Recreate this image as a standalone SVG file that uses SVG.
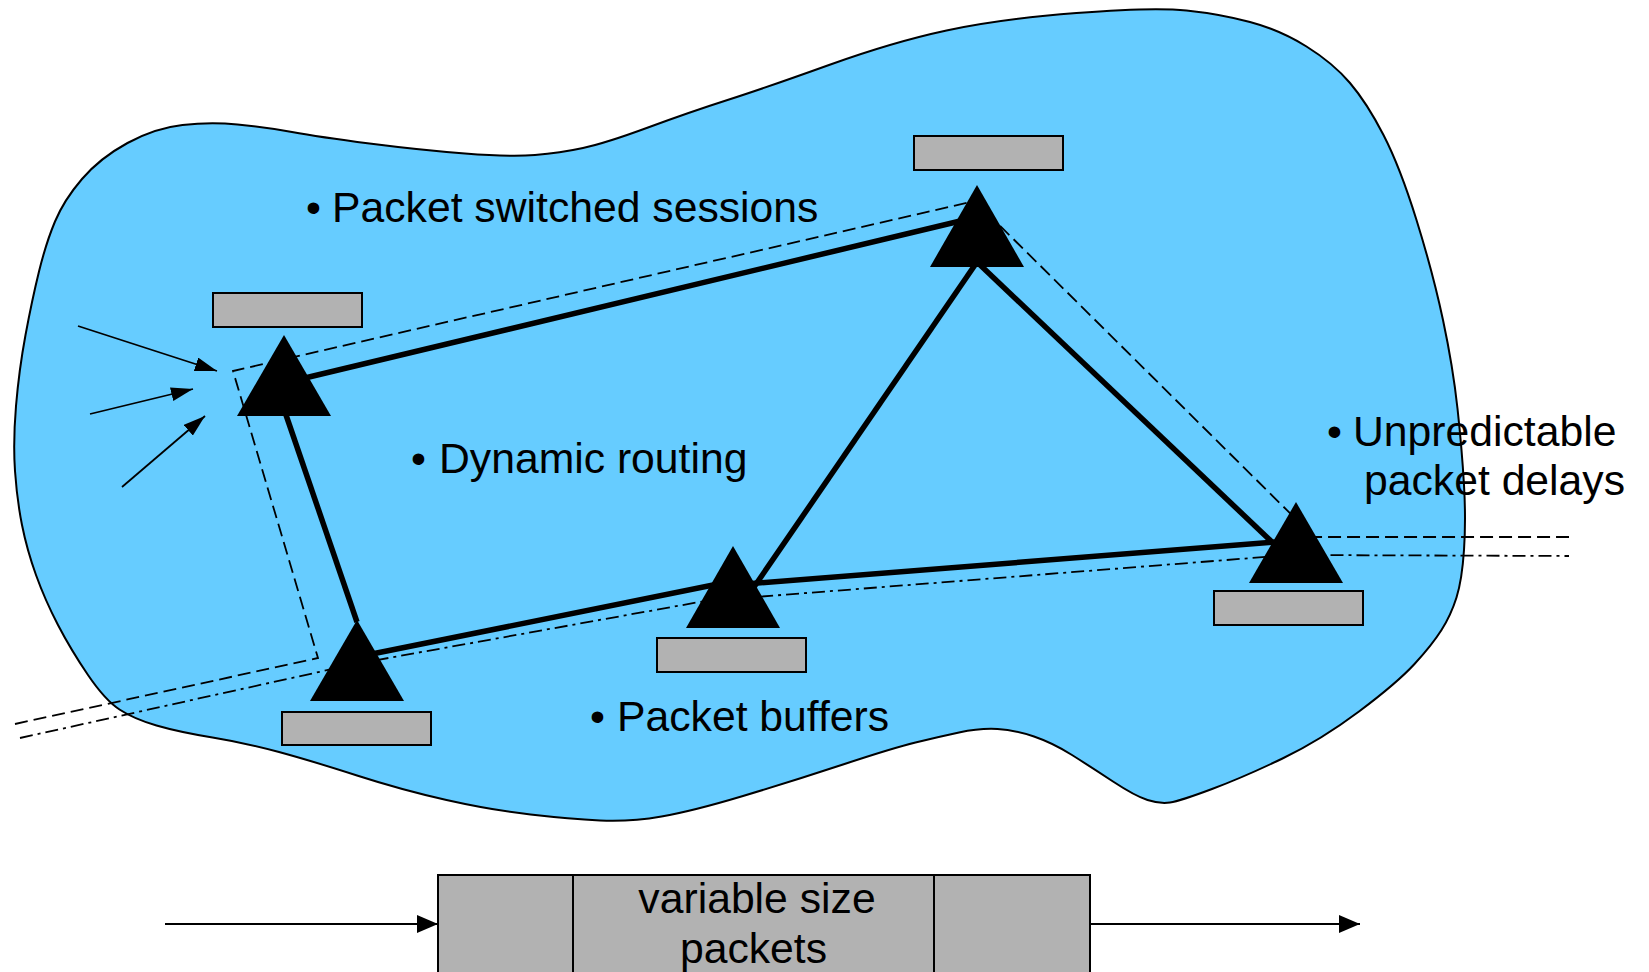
<svg xmlns="http://www.w3.org/2000/svg" width="1649" height="972" viewBox="0 0 1649 972">
  <style>
    .cloud { fill: #66ccff; stroke: #000; stroke-width: 2; }
    .router { fill: #000; }
    .buffer { fill: #b2b2b2; stroke: #000; stroke-width: 2; }
    .link { stroke: #000; stroke-width: 5.5; fill: none; }
    .session { stroke: #000; stroke-width: 1.8; fill: none; stroke-dasharray: 13 6; }
    .flow { stroke: #000; stroke-width: 1.8; fill: none; stroke-dasharray: 13 5 3 5; }
    .feed { stroke: #000; stroke-width: 1.8; fill: none; marker-end: url(#head); }
    .pipe { stroke: #000; stroke-width: 2; fill: none; marker-end: url(#bighead); }
    .label { font-family: "Liberation Sans", Arial, sans-serif; font-size: 42.7px; fill: #000; }
    .packet { fill: #b2b2b2; stroke: #000; stroke-width: 2; }
  </style>
  <defs>
    <marker id="head" markerUnits="userSpaceOnUse" markerWidth="22" markerHeight="14" viewBox="0 0 22 14" refX="22" refY="7" orient="auto">
      <path d="M0,0 L22,7 L0,14 Z" fill="#000"/>
    </marker>
    <marker id="bighead" markerUnits="userSpaceOnUse" markerWidth="21" markerHeight="18" viewBox="0 0 21 18" refX="21" refY="9" orient="auto">
      <path d="M0,0 L21,9 L0,18 Z" fill="#000"/>
    </marker>
  </defs>

  <!-- network cloud -->
  <path id="cloud" class="cloud" d="M15,471 Q13,442 16,406 Q19,370 25.5,335 Q32,300 39,271.5 Q46,243 55,221.5 Q64,200 82,179 Q100,158 127.5,143 Q155,128 182.5,125 Q210,122 237.5,124.5 Q265,127 292,132 Q319,137 369.5,143.5 Q420,150 465,153.5 Q510,157 535,155 Q560,153 583,148 Q606,143 648,127.5 Q690,112 727.5,100 Q765,88 829,65 Q893,42 946.5,30.5 Q1000,19 1076.5,13 Q1153,7 1186.5,10.5 Q1220,14 1250,22 Q1280,30 1306.5,46.5 Q1333,63 1350,83 Q1367,103 1383.5,135 Q1400,167 1416.5,220 Q1433,273 1443,320 Q1453,367 1457.5,408.5 Q1462,450 1464,485 Q1466,520 1464,550 Q1462,580 1456.5,597.5 Q1451,615 1441.5,630 Q1432,645 1414.5,664 Q1397,683 1359,711.5 Q1321,740 1282.5,758.5 Q1244,777 1212,789 Q1180,801 1170,802.5 Q1160,804 1147.5,800 Q1135,796 1113,781.5 Q1091,767 1072,755 Q1053,743 1034,736.5 Q1015,730 997.5,729 Q980,728 959,732.5 Q938,737 915.5,742.5 Q893,748 843,764.5 Q793,781 743,796 Q693,811 661.5,816.5 Q630,822 600,820.5 Q570,819 530.5,814.5 Q491,810 446.5,800 Q402,790 357,775.5 Q312,761 279,752 Q246,743 212.5,737.5 Q179,732 156.5,725.5 Q134,719 119.5,709.5 Q105,700 88,675 Q71,650 58,625 Q45,600 36,575 Q27,550 22,525 Q17,500 15,471 Z"/>

  <!-- links, session paths and inputs -->
  <g id="connectors">
    <line class="link" x1="284" y1="383" x2="977" y2="217"/>
    <line class="link" x1="285" y1="412" x2="357" y2="622"/>
    <line class="link" x1="357" y1="657" x2="733" y2="581"/>
    <line class="link" x1="977" y1="262" x2="752" y2="590"/>
    <line class="link" x1="977" y1="262" x2="1273" y2="543"/>
    <line class="link" x1="733" y1="585" x2="1275" y2="542"/>

    <polyline class="session" points="15,724 318,658 233,371 975,201 1314,537 1569,537"/>
    <polyline class="flow" points="20,738 355,664 705,601 1290,555 1569,556"/>

    <line class="feed" x1="78" y1="326" x2="217" y2="371"/>
    <line class="feed" x1="90" y1="414" x2="193" y2="389"/>
    <line class="feed" x1="122" y1="487" x2="205" y2="416"/>
  </g>

  <!-- switching nodes -->
  <g id="node-a">
    <rect class="buffer" x="213" y="293" width="149" height="34"/>
    <polygon class="router" points="284,335 331,416 237,416"/>
  </g>
  <g id="node-b">
    <rect class="buffer" x="282" y="712" width="149" height="33"/>
    <polygon class="router" points="357,620 404,701 310,701"/>
  </g>
  <g id="node-c">
    <rect class="buffer" x="914" y="136" width="149" height="34"/>
    <polygon class="router" points="977,185 1024,267 930,267"/>
  </g>
  <g id="node-d">
    <rect class="buffer" x="657" y="638" width="149" height="34"/>
    <polygon class="router" points="733,546 780,628 686,628"/>
  </g>
  <g id="node-e">
    <rect class="buffer" x="1214" y="591" width="149" height="34"/>
    <polygon class="router" points="1296,502 1343,583 1249,583"/>
  </g>

  <!-- notes -->
  <text class="label" y="222"><tspan x="306">•</tspan><tspan x="332">Packet switched sessions</tspan></text>
  <text class="label" y="473"><tspan x="411">•</tspan><tspan x="439">Dynamic routing</tspan></text>
  <text class="label" y="731"><tspan x="590">•</tspan><tspan x="617">Packet buffers</tspan></text>
  <text class="label" y="446"><tspan x="1327">•</tspan><tspan x="1353">Unpredictable</tspan></text>
  <text class="label" x="1364" y="495">packet delays</text>

  <!-- packet stream -->
  <g id="packet-stream">
    <rect class="packet" x="438" y="875" width="652" height="100"/>
    <line x1="573" y1="875" x2="573" y2="975" stroke="#000" stroke-width="2"/>
    <line x1="934" y1="875" x2="934" y2="975" stroke="#000" stroke-width="2"/>
    <text class="label" x="757" y="913" text-anchor="middle">variable size</text>
    <text class="label" x="753.5" y="963" text-anchor="middle">packets</text>
  </g>
  <g id="stream-arrows">
    <line class="pipe" x1="165" y1="924" x2="438" y2="924"/>
    <line class="pipe" x1="1090" y1="924" x2="1360" y2="924"/>
  </g>
</svg>
